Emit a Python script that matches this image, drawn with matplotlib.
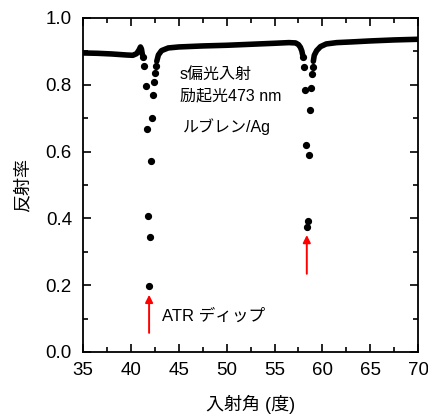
import matplotlib
matplotlib.use("Agg")
import matplotlib.pyplot as plt
from matplotlib.ticker import MultipleLocator

plt.rcParams['font.family'] = ['Liberation Sans', 'Noto Sans CJK JP', 'DejaVu Sans']

# 連続部分 (点が密で線に見える部分)
baseLeftX = [35.0, 36.5, 38.0, 39.5, 40.2, 40.6, 40.85, 41.0, 41.1, 41.2]
baseLeftY = [0.895, 0.894, 0.892, 0.889, 0.888, 0.893, 0.904, 0.913, 0.907, 0.890]

baseMidX = [42.7, 42.87, 43.2, 43.9, 45.0, 47.5, 50.0, 52.5, 55.0, 56.5, 57.2, 57.5, 57.7, 57.85, 57.93]
baseMidY = [0.870, 0.889, 0.902, 0.910, 0.913, 0.916, 0.918, 0.921, 0.924, 0.926, 0.925, 0.920, 0.912, 0.901, 0.890]

baseRightX = [59.05, 59.15, 59.4, 59.8, 60.4, 61.5, 63.0, 65.0, 67.5, 70.0]
baseRightY = [0.870, 0.888, 0.902, 0.914, 0.922, 0.926, 0.928, 0.931, 0.934, 0.936]

# ディップ部分の離散点
dip1X = [41.3, 41.4, 41.55, 41.72, 41.8, 41.9, 42.0, 42.1, 42.24, 42.3, 42.4, 42.5, 42.6]
dip1Y = [0.884, 0.856, 0.796, 0.667, 0.407, 0.196, 0.343, 0.572, 0.700, 0.769, 0.809, 0.834, 0.856]

dip2X = [57.96, 58.03, 58.17, 58.27, 58.37, 58.48, 58.6, 58.7, 58.76, 58.9, 59.0]
dip2Y = [0.884, 0.852, 0.784, 0.618, 0.374, 0.393, 0.590, 0.725, 0.791, 0.832, 0.854]

fig = plt.figure(figsize=(4.28, 4.16), dpi=100)
ax = fig.add_axes([0.194, 0.154, 0.783, 0.803])

for xs, ys in [(baseLeftX, baseLeftY), (baseMidX, baseMidY), (baseRightX, baseRightY)]:
    ax.plot(xs, ys, color='black', lw=4.0, solid_capstyle='round', solid_joinstyle='round')
ax.plot(dip1X, dip1Y, 'o', color='black', ms=4.2)
ax.plot(dip2X, dip2Y, 'o', color='black', ms=4.2)

# 矢印
ax.annotate('', xy=(41.9, 0.171), xytext=(41.9, 0.057),
            arrowprops=dict(arrowstyle='-|>', color='red', lw=1.4, mutation_scale=11,
                            shrinkA=0, shrinkB=0))
ax.annotate('', xy=(58.37, 0.35), xytext=(58.37, 0.234),
            arrowprops=dict(arrowstyle='-|>', color='red', lw=1.4, mutation_scale=11,
                            shrinkA=0, shrinkB=0))

ax.text(43.2, 0.108, 'ATR ディップ', fontsize=12, va='center')
ax.text(45.1, 0.831, 's偏光入射', fontsize=11.5, va='center')
ax.text(45.1, 0.765, '励起光473 nm', fontsize=11.5, va='center')
ax.text(45.4, 0.675, 'ルブレン/Ag', fontsize=11.5, va='center')

ax.set_xlim(35, 70)
ax.set_ylim(0, 1.0)
ax.xaxis.set_major_locator(MultipleLocator(5))
ax.xaxis.set_minor_locator(MultipleLocator(2.5))
ax.yaxis.set_major_locator(MultipleLocator(0.2))
ax.yaxis.set_minor_locator(MultipleLocator(0.1))
ax.yaxis.set_major_formatter(plt.FormatStrFormatter('%.1f'))
ax.tick_params(which='both', direction='in', top=True, right=True, width=1.2, labelsize=13.5)
ax.tick_params(which='major', length=6)
ax.tick_params(which='minor', length=3.5)
ax.tick_params(axis='x', which='major', pad=7)
ax.tick_params(axis='y', which='major', pad=8)
for s in ax.spines.values():
    s.set_linewidth(1.3)

ax.set_xlabel('入射角 (度)', fontsize=13, labelpad=12)
ax.set_ylabel('反射率', fontsize=13, labelpad=10)

plt.savefig('out.png', dpi=100)
